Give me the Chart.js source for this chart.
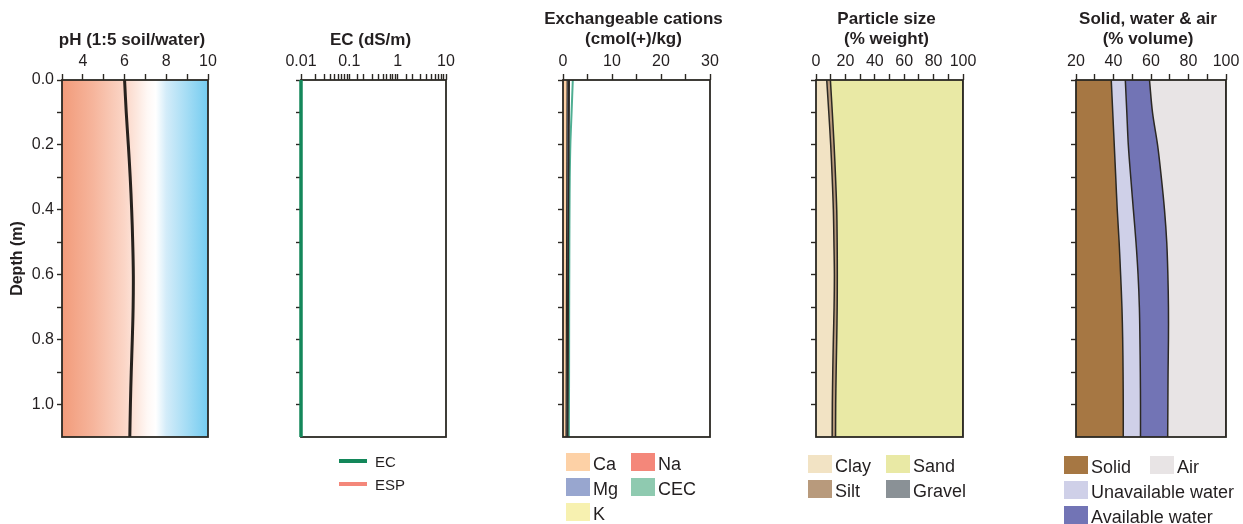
<!DOCTYPE html>
<html>
<head>
<meta charset="utf-8">
<script src="https://cdn.jsdelivr.net/npm/chart.js@4.4.1/dist/chart.umd.min.js"></script>
<style>
	html, body { margin: 0; padding: 0; background: #fff; overflow: hidden; }
	#wrap { position: relative; width: 1243px; height: 524px; font-family: 'Liberation Sans', Arial, sans-serif; color: #231f20; }
	#wrap canvas { position: absolute; top: 0; }
	.lg { position: absolute; display: flex; align-items: center; font-size: 18px; line-height: 18px; white-space: nowrap; }
	.lg i { display: inline-block; width: 24px; height: 18px; margin-right: 3px; }
	.lg span { position: relative; top: 2px; }
	.ln { position: absolute; display: flex; align-items: center; font-size: 15px; line-height: 15px; white-space: nowrap; }
	.ln i { display: inline-block; width: 28px; height: 4.5px; margin-right: 8px; }
</style>
</head>
<body>
<div id="wrap"></div>
<script>
// depth down the profile (m)
const depth = [0, 0.1, 0.2, 0.3, 0.4, 0.5, 0.6, 0.7, 0.8, 0.9, 1.0, 1.1]

const ph = [6.0, 6.08, 6.18, 6.27, 6.34, 6.39, 6.42, 6.41, 6.37, 6.32, 6.28, 6.25]

const ec = [0.01, 0.01, 0.01, 0.01, 0.01, 0.01, 0.01, 0.01, 0.01, 0.01, 0.01, 0.01]
const esp = [null, null, null, null, null, null, null, null, null, null, null, null]

const ca = [0.85, 0.82, 0.8, 0.78, 0.76, 0.74, 0.72, 0.7, 0.68, 0.66, 0.64, 0.62]
const mg = [0.3, 0.3, 0.28, 0.27, 0.26, 0.25, 0.25, 0.24, 0.24, 0.24, 0.23, 0.23]
const k = [0.06, 0.06, 0.06, 0.06, 0.06, 0.06, 0.06, 0.06, 0.06, 0.06, 0.06, 0.06]
const na = [0.08, 0.08, 0.08, 0.08, 0.08, 0.08, 0.08, 0.08, 0.08, 0.08, 0.08, 0.08]
const cec = [2.0, 1.75, 1.5, 1.38, 1.33, 1.3, 1.28, 1.26, 1.25, 1.24, 1.22, 1.2]

const clay = [7.3, 8.7, 10.0, 11.0, 11.8, 12.2, 12.5, 12.3, 11.8, 11.4, 11.1, 11.0]
const silt = [2.5, 2.4, 2.3, 2.3, 2.3, 2.2, 2.0, 2.1, 2.3, 2.3, 2.3, 2.3]
const sand = [90.2, 88.9, 87.7, 86.7, 85.9, 85.6, 85.5, 85.6, 85.9, 86.3, 86.6, 86.7]
const gravel = [0, 0, 0, 0, 0, 0, 0, 0, 0, 0, 0, 0]

const solid = [38.8, 39.6, 40.4, 41.2, 42.0, 43.0, 43.8, 44.5, 44.9, 45.1, 45.2, 45.2]
const unavailWater = [7.5, 7.5, 7.5, 8.0, 8.6, 9.0, 9.3, 9.3, 9.2, 9.2, 9.2, 9.2]
const availWater = [12.9, 13.7, 15.6, 16.3, 16.6, 16.4, 15.9, 15.5, 15.2, 14.8, 14.6, 14.5]
const air = [40.8, 39.2, 36.5, 34.5, 32.8, 31.6, 31.0, 30.7, 30.7, 30.9, 31.0, 31.1]

// tick labels
const depthLabels = [0.0, 0.2, 0.4, 0.6, 0.8, 1.0]
const phLabels = [4, 6, 8, 10]
const ecLabels = [0.01, 0.1, 1, 10]
const cationLabels = [0, 10, 20, 30]
const particleLabels = [0, 20, 40, 60, 80, 100]
const volumeLabels = [20, 40, 60, 80, 100]

const INK = '#2b2823'
const PAD_L = 62
const TOP = 80
const BOTTOM = 437
const PAD_B = 18
const CANVAS_H = BOTTOM + PAD_B
const FONT = "'Liberation Sans', Arial, sans-serif"

Chart.defaults.font.family = FONT
Chart.defaults.color = '#231f20'

const wrap = document.getElementById('wrap')

function pts(vals) {
	return vals.map((v, i) => ({ x: v, y: depth[i] }))
}

function labelIf(list, digits) {
	return v => {
		const hit = list.find(t => Math.abs(t - v) <= Math.abs(t) * 1e-6 + 1e-9)
		if (hit === undefined) return ''
		return digits ? hit.toFixed(digits) : String(hit)
	}
}

const frame = {
	id: 'frame',
	beforeDatasetsDraw(chart, args, opts) { if (opts.under) drawFrame(chart) },
	afterDatasetsDraw(chart, args, opts) { if (!opts.under) drawFrame(chart) },
}

function drawFrame(chart) {
	const { ctx, chartArea: a } = chart
	ctx.save()
	ctx.strokeStyle = INK
	ctx.lineWidth = 1.8
	ctx.strokeRect(a.left, a.top, a.right - a.left, a.bottom - a.top)
	ctx.restore()
}

// panel heading, centred over the plot without squeezing
const panelTitle = {
	id: 'panelTitle',
	afterDraw(chart, args, opts) {
		const { ctx, chartArea: a } = chart
		const cx = (a.left + a.right) / 2 - 3
		const y0 = opts.lines.length > 1 ? 19 : 40
		ctx.save()
		ctx.font = 'bold 17px ' + FONT
		ctx.fillStyle = '#231f20'
		ctx.textAlign = 'center'
		ctx.textBaseline = 'middle'
		opts.lines.forEach((t, i) => ctx.fillText(t, cx, y0 + i * 20))
		ctx.restore()
	},
}

// acid -> alkaline shading behind the pH profile
const phBackground = {
	id: 'phBackground',
	beforeDatasetsDraw(chart) {
		const { ctx, chartArea: a, scales: { x } } = chart
		const stops = [[3, '#f29b7a'], [4.5, '#f6b59c'], [6, '#fbd6c7'], [6.6, '#fde8df'], [7.1, '#fff8f5'], [7.5, '#ffffff'], [8, '#d3ecf9'], [10, '#74ccf0']]
		const g = ctx.createLinearGradient(a.left, 0, a.right, 0)
		stops.forEach(([v, c]) => g.addColorStop((x.getPixelForValue(v) - a.left) / (a.right - a.left), c))
		ctx.save()
		ctx.fillStyle = g
		ctx.fillRect(a.left, a.top, a.right - a.left, a.bottom - a.top)
		ctx.restore()
	},
}

function panel(p) {
	const canvas = document.createElement('canvas')
	canvas.width = PAD_L + p.width + p.right
	canvas.height = CANVAS_H
	canvas.style.left = (p.left - PAD_L) + 'px'
	wrap.appendChild(canvas)

	return new Chart(canvas, {
		type: 'line',
		data: { datasets: p.datasets },
		plugins: [frame, panelTitle].concat(p.extra || []),
		options: {
			responsive: false,
			animation: false,
			indexAxis: 'y',
			layout: { padding: { left: 0, right: p.right, top: 0, bottom: PAD_B } },
			elements: {
				point: { radius: 0 },
				line: { tension: 0.35, borderWidth: 1.5, borderColor: INK },
			},
			plugins: {
				legend: { display: false },
				tooltip: { enabled: false },
				frame: { under: !!p.frameUnder },
				panelTitle: { lines: p.title },
			},
			scales: {
				x: {
					type: p.xType || 'linear',
					position: 'top',
					min: p.min,
					max: p.max,
					stacked: !!p.stacked,
					afterFit: s => { s.height = TOP },
					border: { display: false },
					grid: { drawOnChartArea: false, tickLength: 6, tickColor: INK, tickWidth: 1.4 },
					ticks: {
						stepSize: p.step,
						autoSkip: false,
						maxRotation: 0,
						padding: 3,
						font: { size: 16 },
						color: '#231f20',
						callback: labelIf(p.xLabels),
					},
				},
				y: {
					type: 'linear',
					min: 0,
					max: 1.1,
					reverse: true,
					afterFit: s => { s.width = PAD_L },
					border: { display: false },
					grid: {
						drawOnChartArea: false,
						tickLength: 5,
						tickWidth: 1.4,
						tickColor: c => (c.tick && c.tick.value > 1.05 ? 'rgba(0,0,0,0)' : INK),
					},
					ticks: {
						stepSize: 0.1,
						autoSkip: false,
						padding: 3,
						font: { size: 16 },
						color: '#231f20',
						callback: p.yLabels ? labelIf(depthLabels, 1) : () => '',
					},
					title: {
						display: !!p.yLabels,
						text: 'Depth (m)',
						color: '#231f20',
						font: { size: 16, weight: 'bold' },
						padding: { top: 8, bottom: 0 },
					},
				},
			},
		},
	})
}

// pH
panel({
	left: 62, width: 146, right: 24,
	min: 3, max: 10, step: 1, xLabels: phLabels, yLabels: true,
	title: ['pH (1:5 soil/water)'],
	extra: [phBackground],
	datasets: [
		{ label: 'pH', data: pts(ph), borderColor: '#27211d', borderWidth: 3, fill: false, tension: 0.4 },
	],
})

// EC / ESP
panel({
	left: 301, width: 145, right: 24,
	xType: 'logarithmic', min: 0.01, max: 10, xLabels: ecLabels,
	title: ['EC (dS/m)'],
	frameUnder: true,
	datasets: [
		{ label: 'EC', data: pts(ec), borderColor: '#13875a', borderWidth: 3.5, fill: false, clip: 6 },
		{ label: 'ESP', data: pts(esp), borderColor: '#f4877a', borderWidth: 3.5, fill: false, clip: 6 },
	],
})

// exchangeable cations
const cationColors = { Ca: '#fdd1a6', Mg: '#98a6cf', K: '#f7f1b0', Na: '#f4877a', CEC: '#8fcab0' }
panel({
	left: 563, width: 147, right: 24,
	min: 0, max: 30, step: 5, xLabels: cationLabels, stacked: true,
	title: ['Exchangeable cations', '(cmol(+)/kg)'],
	datasets: [
		{ label: 'Ca', data: pts(ca), backgroundColor: cationColors.Ca, fill: 'origin', borderWidth: 1.2 },
		{ label: 'Mg', data: pts(mg), backgroundColor: cationColors.Mg, fill: '-1', borderWidth: 1.2 },
		{ label: 'K', data: pts(k), backgroundColor: cationColors.K, fill: '-1', borderWidth: 1.2 },
		{ label: 'Na', data: pts(na), backgroundColor: cationColors.Na, fill: '-1', borderWidth: 1.2 },
		{ label: 'CEC', data: pts(cec), borderColor: '#4fae92', borderWidth: 2, fill: false, stack: 'cec' },
	],
})

// particle size
const particleColors = { Clay: '#f2e3c4', Silt: '#b89a7c', Sand: '#e9e9a5', Gravel: '#8a9196' }
panel({
	left: 816, width: 147, right: 24,
	min: 0, max: 100, step: 10, xLabels: particleLabels, stacked: true,
	title: ['Particle size', '(% weight)'],
	datasets: [
		{ label: 'Clay', data: pts(clay), backgroundColor: particleColors.Clay, fill: 'origin' },
		{ label: 'Silt', data: pts(silt), backgroundColor: particleColors.Silt, fill: '-1' },
		{ label: 'Sand', data: pts(sand), backgroundColor: particleColors.Sand, fill: '-1' },
		{ label: 'Gravel', data: pts(gravel), backgroundColor: particleColors.Gravel, fill: '-1' },
	],
})

// solid, water and air
const volumeColors = { Solid: '#a67743', 'Unavailable water': '#cfd0e8', 'Available water': '#7274b5', Air: '#e8e4e5' }
panel({
	left: 1076, width: 150, right: 17,
	min: 20, max: 100, step: 10, xLabels: volumeLabels, stacked: true,
	title: ['Solid, water & air', '(% volume)'],
	datasets: [
		{ label: 'Solid', data: pts(solid), backgroundColor: volumeColors.Solid, fill: { value: 20 } },
		{ label: 'Unavailable water', data: pts(unavailWater), backgroundColor: volumeColors['Unavailable water'], fill: '-1' },
		{ label: 'Available water', data: pts(availWater), backgroundColor: volumeColors['Available water'], fill: '-1' },
		{ label: 'Air', data: pts(air), backgroundColor: volumeColors.Air, fill: '-1' },
	],
})

// legends
function boxLegend(items, colX, rowY) {
	items.forEach(([name, color, col, row]) => {
		const d = document.createElement('div')
		d.className = 'lg'
		d.style.left = colX[col] + 'px'
		d.style.top = rowY[row] + 'px'
		d.innerHTML = '<i style="background:' + color + '"></i><span>' + name + '</span>'
		wrap.appendChild(d)
	})
}

function lineLegend(items, x, rowY) {
	items.forEach(([name, color, row]) => {
		const d = document.createElement('div')
		d.className = 'ln'
		d.style.left = x + 'px'
		d.style.top = (rowY[row] - 7.5) + 'px'
		d.innerHTML = '<i style="background:' + color + '"></i><span>' + name + '</span>'
		wrap.appendChild(d)
	})
}

lineLegend([['EC', '#13875a', 0], ['ESP', '#f4877a', 1]], 339, [461, 484])

boxLegend([
	['Ca', cationColors.Ca, 0, 0], ['Na', cationColors.Na, 1, 0],
	['Mg', cationColors.Mg, 0, 1], ['CEC', cationColors.CEC, 1, 1],
	['K', cationColors.K, 0, 2],
], [566, 631], [453, 478, 503])

boxLegend([
	['Clay', particleColors.Clay, 0, 0], ['Sand', particleColors.Sand, 1, 0],
	['Silt', particleColors.Silt, 0, 1], ['Gravel', particleColors.Gravel, 1, 1],
], [808, 886], [455, 479.5])

boxLegend([
	['Solid', volumeColors.Solid, 0, 0], ['Air', volumeColors.Air, 1, 0],
	['Unavailable water', volumeColors['Unavailable water'], 0, 1],
	['Available water', volumeColors['Available water'], 0, 2],
], [1064, 1150], [455.5, 480.5, 506])
</script>
</body>
</html>
